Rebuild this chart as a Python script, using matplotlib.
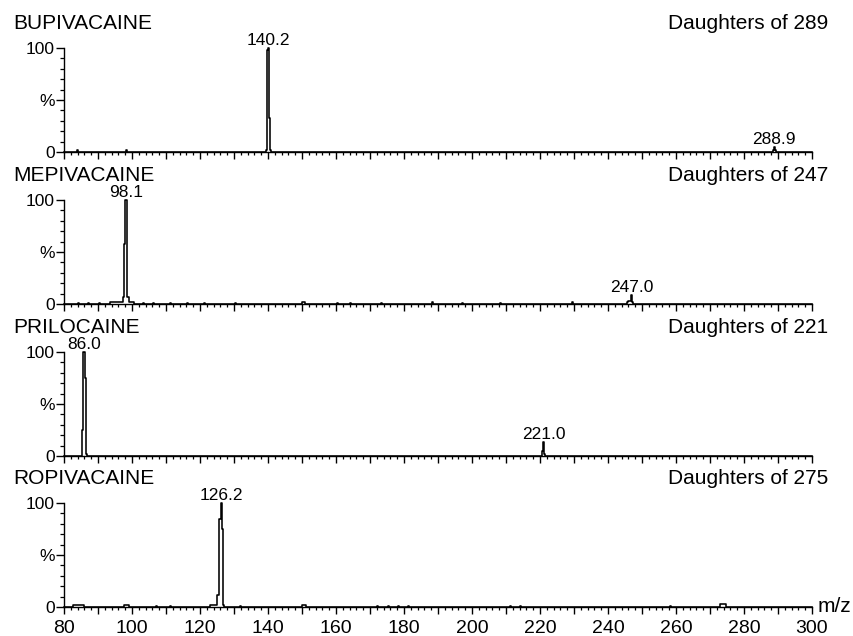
import matplotlib
matplotlib.use("Agg")
import matplotlib.pyplot as plt
from matplotlib.ticker import MultipleLocator, FixedLocator, FuncFormatter

plt.rcParams['font.family'] = ['Liberation Sans', 'DejaVu Sans']

# ---------------- data ----------------
compounds = ["BUPIVACAINE", "MEPIVACAINE", "PRILOCAINE", "ROPIVACAINE"]
precursors = ["Daughters of 289", "Daughters of 247", "Daughters of 221", "Daughters of 275"]

mz_bup = [80, 83.8, 84.1, 84.4, 98.2, 98.5, 98.8, 139.3, 139.5, 139.75, 139.95, 140.15,
          140.4, 140.6, 140.9, 288.3, 288.6, 288.9, 289.15, 289.4, 300]
int_bup = [0, 0, 1.5, 0, 0, 1.5, 0, 0, 2, 28, 98, 100, 33, 2, 0, 0, 1.5, 5, 1.5, 0, 0]

mz_mep = [80, 84.0, 84.3, 84.6, 87.0, 87.3, 87.6, 90.0, 90.3, 90.6, 93.3, 93.6, 95.0, 96.5,
          97.2, 97.5, 97.8, 98.05, 98.3, 98.6, 99.0, 99.5, 100.3, 100.6,
          103, 103.3, 103.6, 106, 106.3, 106.6, 111, 111.3, 111.6, 116, 116.3, 116.6,
          121, 121.3, 121.6, 130, 130.3, 130.6, 149.8, 150.2, 150.8, 151.1,
          160, 160.3, 160.6, 164, 164.3, 164.6, 173, 173.3, 173.6, 188, 188.3, 188.6,
          197, 197.3, 197.6, 208, 208.3, 208.6, 229.2, 229.5, 229.8,
          245.3, 245.6, 246.2, 246.7, 247.0, 247.3, 247.6, 300]
int_mep = [0, 0, 1.2, 0, 0, 1.2, 0, 0, 1.2, 0, 0, 1.5, 1.5, 2,
           2, 7, 58, 100, 100, 7, 7, 2, 1.5, 0,
           0, 1.2, 0, 0, 1.2, 0, 0, 1.2, 0, 0, 1.2, 0,
           0, 1.2, 0, 0, 1.2, 0, 0, 2, 2, 0,
           0, 1.2, 0, 0, 1.2, 0, 0, 1.2, 0, 0, 1.5, 0,
           0, 1.2, 0, 0, 1.2, 0, 0, 1.5, 0,
           0, 2, 2.5, 3, 9, 2, 0, 0]

mz_pri = [80, 85.1, 85.3, 85.55, 85.8, 86.05, 86.35, 86.6, 86.8, 220.4, 220.7, 221.0, 221.3, 221.5, 300]
int_pri = [0, 0, 3, 25, 100, 100, 75, 2, 0, 0, 5, 13, 2, 0, 0]

mz_rop = [80, 82.5, 82.8, 85.8, 86.1, 97.6, 97.9, 98.9, 99.2, 107, 107.3, 107.6, 111, 111.3, 111.6,
          122.8, 123.2, 124.0, 124.8, 125.3, 125.65, 125.95, 126.2, 126.5, 126.8, 127.1,
          131.5, 131.8, 132.1, 149.8, 150.1, 150.9, 151.2, 172, 172.3, 172.6, 175, 175.3, 175.6,
          178, 178.3, 178.6, 181, 181.3, 181.6, 211, 211.3, 211.6, 214, 214.3, 214.6,
          258, 258.3, 258.6, 272.8, 273.2, 274.4, 274.8, 300]
int_rop = [0, 0, 1.5, 1.5, 0, 0, 1.5, 1.5, 0, 0, 1.2, 0, 0, 1.2, 0,
           0, 1.5, 1.5, 2, 12, 85, 85, 100, 75, 2, 0,
           0, 1.2, 0, 0, 1.5, 1.5, 0, 0, 1.2, 0, 0, 1.2, 0,
           0, 1.2, 0, 0, 1.2, 0, 0, 1.2, 0, 0, 1.2, 0,
           0, 1.2, 0, 0, 3, 3, 0, 0]

labels_mz = [[140.2, 288.9], [98.1, 247.0], [86.0, 221.0], [126.2]]
labels_at = [[140.2, 288.9], [98.18, 247.0], [85.92, 221.0], [126.2]]
labels_h = [[100, 5], [100, 9], [100, 13], [100]]

x_min, x_max = 80, 300
x_tick_labels = [80, 100, 120, 140, 160, 180, 200, 220, 240, 260, 280, 300]

spectra = [(mz_bup, int_bup), (mz_mep, int_mep), (mz_pri, int_pri), (mz_rop, int_rop)]

# ---------------- layout ----------------
W, H = 854, 636
fig = plt.figure(figsize=(W / 100, H / 100), dpi=100)

ax_left, ax_right = 64, 812
bottoms_px = [152, 304, 456, 607]
height_px = 104

for i, (mz, inten) in enumerate(spectra):
    b = bottoms_px[i]
    ax = fig.add_axes([ax_left / W, 1 - b / H, (ax_right - ax_left) / W, height_px / H])
    ax.plot(mz, inten, drawstyle='steps-mid', color='black', lw=1.15, clip_on=False)
    ax.set_xlim(x_min, x_max)
    ax.set_ylim(0, 100)
    for s in ['top', 'right']:
        ax.spines[s].set_visible(False)
    for s in ['left', 'bottom']:
        ax.spines[s].set_linewidth(1.0)

    ax.xaxis.set_major_locator(MultipleLocator(10))
    ax.xaxis.set_minor_locator(MultipleLocator(2))
    ax.tick_params(axis='x', which='major', length=5, width=1.0, direction='out', pad=4.5)
    ax.tick_params(axis='x', which='minor', length=2.5, width=0.9, direction='out')
    if i == 3:
        ax.xaxis.set_major_formatter(FuncFormatter(
            lambda v, p: f"{int(round(v))}" if int(round(v)) in x_tick_labels else ""))
        ax.tick_params(axis='x', labelsize=14)
    else:
        ax.tick_params(axis='x', labelbottom=False)

    ax.yaxis.set_major_locator(FixedLocator([0, 50, 100]))
    ax.yaxis.set_minor_locator(MultipleLocator(10))
    ax.set_yticklabels(["0", "%", "100"])
    ax.tick_params(axis='y', which='major', length=5.5, width=1.0, pad=1, labelsize=12.5)
    ax.tick_params(axis='y', which='minor', length=3, width=0.9)

    for lab, xm, hh in zip(labels_mz[i], labels_at[i], labels_h[i]):
        ax.annotate(f"{lab:.1f}", xy=(xm, hh), xytext=(0, 2.2), textcoords='offset points',
                    ha='center', va='baseline', fontsize=12.5)

    top = b - height_px
    fig.text(13 / W, 1 - (top - 19) / H, compounds[i], ha='left', va='baseline', fontsize=15)
    fig.text(828 / W, 1 - (top - 19) / H, precursors[i], ha='right', va='baseline', fontsize=15)

fig.text(818 / W, 1 - 607 / H, "m/z", ha='left', va='center', fontsize=15)

fig.savefig("out.png", dpi=100)
